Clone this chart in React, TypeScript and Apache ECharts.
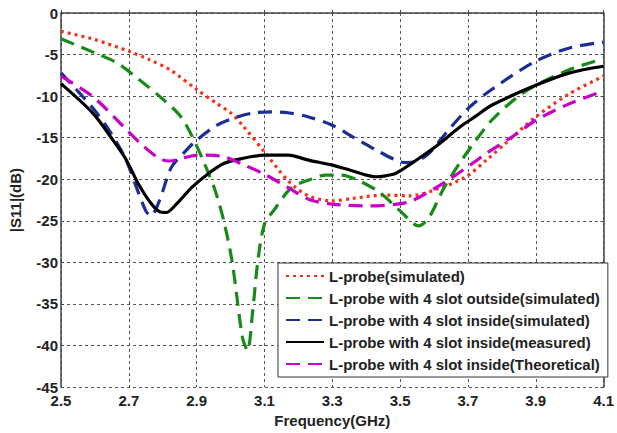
import React, { useEffect, useRef } from "react";
import * as echarts from "echarts";

// Frequency (GHz) / |S11| (dB) pairs
const redFreq = [2.5, 2.6, 2.7, 2.76, 2.82, 2.9, 2.96, 3.0, 3.035, 3.1, 3.17, 3.23, 3.3, 3.36, 3.45, 3.53, 3.6, 3.69, 3.76, 3.81, 3.9, 4.0, 4.1];
const redVal = [-2.2, -3.2, -4.6, -5.6, -6.8, -9.2, -10.9, -12.0, -13.5, -16.7, -20.2, -22.0, -22.6, -22.3, -21.9, -22.0, -21.3, -19.8, -17.5, -15.7, -12.5, -9.7, -7.6];

const greenFreq = [2.5, 2.6, 2.665, 2.73, 2.79, 2.85, 2.885, 2.925, 2.955, 2.98, 3.005, 3.035, 3.05, 3.065, 3.08, 3.1, 3.13, 3.18, 3.23, 3.28, 3.325, 3.38, 3.44, 3.5, 3.555, 3.585, 3.63, 3.68, 3.72, 3.77, 3.84, 3.9, 4.0, 4.1];
const greenVal = [-3.1, -4.8, -6.0, -8.0, -10.0, -12.3, -14.7, -18.3, -21.4, -25.0, -30.0, -39.0, -40.6, -36.0, -30.0, -25.4, -23.6, -21.0, -20.1, -19.5, -19.5, -20.2, -21.6, -23.8, -25.6, -24.6, -21.0, -17.8, -15.5, -12.9, -10.3, -8.7, -6.8, -5.5];

const blueFreq = [2.5, 2.595, 2.645, 2.69, 2.72, 2.75, 2.765, 2.79, 2.825, 2.865, 2.9, 2.96, 3.02, 3.07, 3.12, 3.17, 3.23, 3.3, 3.36, 3.43, 3.5, 3.525, 3.56, 3.585, 3.63, 3.7, 3.77, 3.9, 4.0, 4.1];
const blueVal = [-7.2, -11.5, -14.3, -17.5, -20.7, -23.8, -24.4, -22.6, -18.6, -16.7, -15.3, -13.5, -12.5, -12.0, -11.9, -12.0, -12.5, -13.5, -14.9, -16.5, -17.9, -18.0, -17.6, -16.9, -14.7, -11.5, -9.2, -5.8, -4.2, -3.5];

const blackFreq = [2.5, 2.595, 2.65, 2.69, 2.73, 2.76, 2.79, 2.81, 2.84, 2.885, 2.935, 2.98, 3.035, 3.1, 3.17, 3.23, 3.3, 3.36, 3.43, 3.48, 3.5, 3.555, 3.61, 3.68, 3.72, 3.77, 3.9, 4.0, 4.1];
const blackVal = [-8.5, -12.1, -15.1, -17.5, -20.7, -22.6, -23.9, -24.0, -23.0, -21.0, -19.3, -18.1, -17.5, -17.1, -17.1, -17.7, -18.3, -19.0, -19.7, -19.4, -19.0, -17.5, -15.9, -13.6, -12.5, -11.1, -8.7, -7.2, -6.4];

const magentaFreq = [2.5, 2.595, 2.69, 2.74, 2.79, 2.82, 2.885, 2.935, 2.98, 3.035, 3.1, 3.17, 3.23, 3.3, 3.41, 3.49, 3.535, 3.63, 3.72, 3.75, 3.845, 3.9, 4.0, 4.1];
const magentaVal = [-7.6, -10.1, -13.9, -15.9, -17.5, -17.8, -17.2, -17.1, -17.3, -18.2, -19.4, -21.0, -22.4, -23.0, -23.2, -23.0, -22.6, -20.4, -17.9, -17.0, -14.5, -12.9, -10.9, -9.4];

const seriesNames = [
  "L-probe(simulated)",
  "L-probe with 4 slot outside(simulated)",
  "L-probe with 4 slot inside(simulated)",
  "L-probe with 4 slot inside(measured)",
  "L-probe with 4 slot inside(Theoretical)",
];

const xMin = 2.5;
const xMax = 4.1;
const yMin = -45;
const yMax = 0;

const pairs = (f: number[], v: number[]) => f.map((x, i) => [+(x - xMin).toFixed(4), v[i]]);

export default function App() {
  const ref = useRef<HTMLDivElement>(null);
  useEffect(() => {
    if (!ref.current) return;
    const chart = echarts.init(ref.current, undefined, { renderer: "svg" });
    const font = "'Liberation Sans', Arial, sans-serif";
    const mk = (name: string, data: number[][], color: string, type: any, width = 3.2) => ({
      name,
      type: "line",
      data,
      showSymbol: false,
      symbol: "none",
      smooth: 0.3,
      lineStyle: { color, width, type, cap: "butt" },
      itemStyle: { color },
      z: 3,
    });
    chart.setOption({
      animation: false,
      backgroundColor: "#fff",
      grid: { left: 55, right: 9, top: 13, bottom: 41, containLabel: false },
      xAxis: {
        type: "value",
        min: 0,
        max: xMax - xMin,
        interval: 0.2,
        name: "Frequency(GHz)",
        nameLocation: "middle",
        nameGap: 25,
        nameTextStyle: { fontFamily: font, fontWeight: "bold", fontSize: 15, color: "#222" },
        axisLine: { lineStyle: { color: "#444", width: 1.5 } },
        axisTick: { show: true, inside: true, length: 3, lineStyle: { color: "#444" } },
        axisLabel: {
          fontFamily: font,
          fontWeight: "bold",
          fontSize: 15,
          lineHeight: 13,
          color: "#222",
          margin: 7,
          formatter: (v: number) => (v + xMin).toFixed(1),
        },
        splitLine: { show: true, lineStyle: { color: "#555", width: 1, type: [3, 3] } },
      },
      yAxis: [
        {
          type: "value",
          min: yMin,
          max: yMax,
          interval: 5,
          name: "|S11|(dB)",
          nameLocation: "middle",
          nameGap: 38,
          nameTextStyle: { fontFamily: font, fontWeight: "bold", fontSize: 15, color: "#222" },
          axisLine: { show: true, lineStyle: { color: "#444", width: 1.5 } },
          axisTick: { show: true, inside: true, length: 3, lineStyle: { color: "#444" } },
          axisLabel: {
            fontFamily: font,
            fontWeight: "bold",
            fontSize: 15,
            lineHeight: 11,
            color: "#222",
            margin: 3,
          },
          splitLine: { show: true, lineStyle: { color: "#555", width: 1, type: [3, 3] } },
        },
        {
          type: "value",
          min: yMin,
          max: yMax,
          interval: 5,
          position: "right",
          axisLine: { show: true, lineStyle: { color: "#444", width: 1.5 } },
          axisTick: { show: true, inside: true, length: 3, lineStyle: { color: "#444" } },
          axisLabel: { show: false },
          splitLine: { show: false },
        },
      ],
      legend: {
        orient: "vertical",
        left: 278,
        top: 263,
        padding: [5, 8, 5, 7],
        itemWidth: 38,
        itemHeight: 14,
        itemGap: 6,
        backgroundColor: "#fff",
        borderColor: "#333",
        borderWidth: 1,
        borderRadius: 0,
        itemStyle: { opacity: 0 },
        textStyle: { fontFamily: font, fontWeight: "bold", fontSize: 15, lineHeight: 16, color: "#222" },
        data: seriesNames,
      },
      series: [
        mk(seriesNames[0], pairs(redFreq, redVal), "#f2331a", [3, 4]),
        mk(seriesNames[1], pairs(greenFreq, greenVal), "#178a17", [14, 8]),
        mk(seriesNames[2], pairs(blueFreq, blueVal), "#1b2d96", [14, 8]),
        mk(seriesNames[3], pairs(blackFreq, blackVal), "#000000", "solid"),
        mk(seriesNames[4], pairs(magentaFreq, magentaVal), "#c800c8", [14, 8]),
      ],
    });
    return () => chart.dispose();
  }, []);
  return (
    <div
      ref={ref}
      style={{ position: "absolute", left: 0, top: 0, width: 617, height: 433, background: "#fff" }}
    />
  );
}
